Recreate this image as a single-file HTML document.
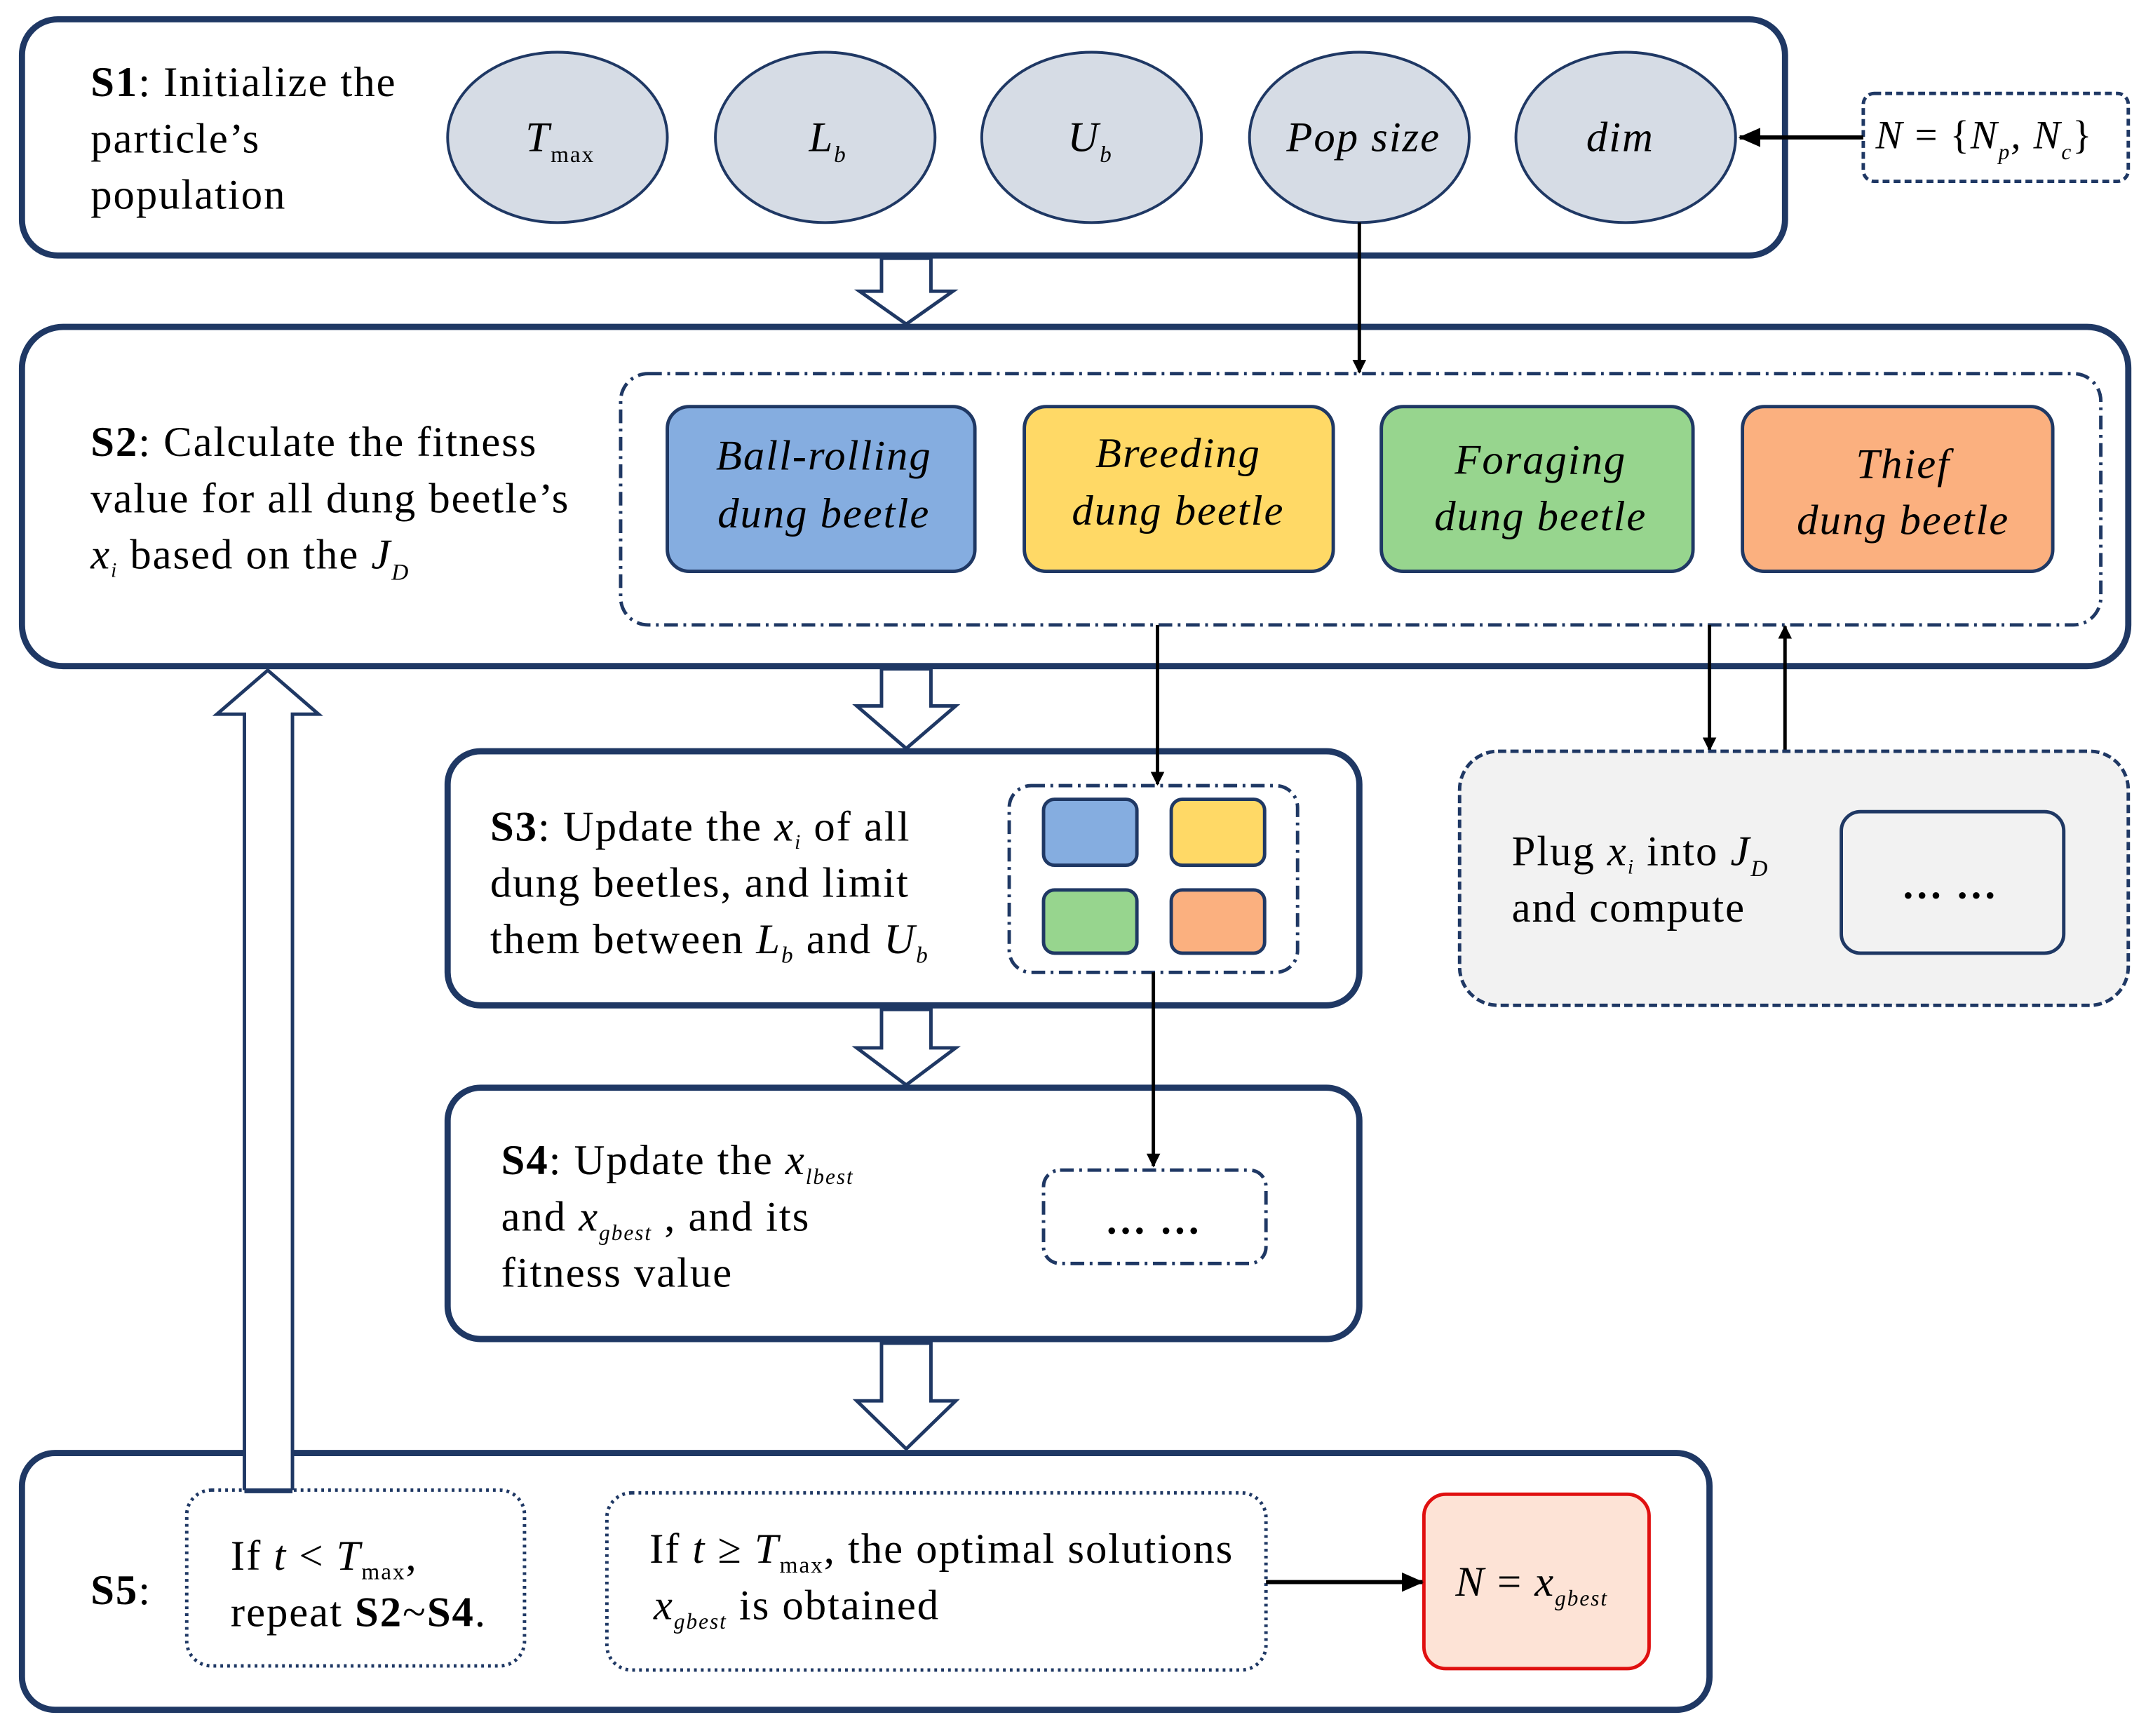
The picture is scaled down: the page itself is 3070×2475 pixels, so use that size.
<!DOCTYPE html>
<html><head><meta charset="utf-8"><style>
html,body{margin:0;padding:0;background:#fff}
svg{display:block}
text{font-family:"Liberation Serif",serif;fill:#000;letter-spacing:1px}
</style></head><body>
<svg width="3070" height="2475" viewBox="0 0 1568 1264" xmlns="http://www.w3.org/2000/svg">
<defs>
<marker id="ah" markerWidth="10" markerHeight="10" refX="9" refY="5" orient="auto" markerUnits="userSpaceOnUse"><path d="M0,0 L10,5 L0,10 z" fill="#000"/></marker>
<marker id="ah2" markerWidth="16" markerHeight="14" refX="15" refY="7" orient="auto" markerUnits="userSpaceOnUse"><path d="M0,0 L16,7 L0,14 z" fill="#000"/></marker>
</defs>
<g fill="#fff" stroke="#1f3864" stroke-width="4.5">
<rect x="16" y="14" width="1284" height="172" rx="26"/>
<rect x="16" y="238" width="1534" height="247" rx="30"/>
<rect x="326" y="547" width="664" height="185" rx="24"/>
<rect x="326" y="792" width="664" height="183" rx="24"/>
<rect x="16" y="1058" width="1229" height="187" rx="24"/>
</g>
<g fill="#d6dce5" stroke="#1f3864" stroke-width="2">
<ellipse cx="406" cy="100" rx="80" ry="62"/>
<ellipse cx="601" cy="100" rx="80" ry="62"/>
<ellipse cx="795" cy="100" rx="80" ry="62"/>
<ellipse cx="990" cy="100" rx="80" ry="62"/>
<ellipse cx="1184" cy="100" rx="80" ry="62"/>
</g>
<g font-style="italic" font-size="31" text-anchor="middle">
<text x="408" y="110">T<tspan font-size="17" font-style="normal" dy="8">max</tspan></text>
<text x="603" y="110">L<tspan font-size="17" dy="8">b</tspan></text>
<text x="794" y="110">U<tspan font-size="17" dy="8">b</tspan></text>
<text x="993" y="110">Pop size</text>
<text x="1180" y="110">dim</text>
</g>
<rect x="1357" y="68" width="193" height="64" rx="8" fill="#fff" stroke="#1f3864" stroke-width="2.5" stroke-dasharray="5,3"/>
<text x="1366" y="108" font-size="29" font-style="italic">N<tspan font-style="normal"> = {</tspan>N<tspan font-size="16" dy="8">p</tspan><tspan dy="-8">, N</tspan><tspan font-size="16" dy="8">c</tspan><tspan font-style="normal" dy="-8">}</tspan></text>
<line x1="1357" y1="100" x2="1267" y2="100" stroke="#000" stroke-width="3" marker-end="url(#ah2)"/>
<text font-size="31"><tspan x="66" y="70"><tspan font-weight="bold">S1</tspan>: Initialize the</tspan><tspan x="66" y="111">particle’s</tspan><tspan x="66" y="152">population</tspan></text>
<g fill="#fff" stroke="#1f3864" stroke-width="2.5">
<path d="M642,188 L678,188 L678,212 L694,212 L660,236 L626,212 L642,212 Z"/>
<path d="M642,487 L678,487 L678,514 L696,514 L660,545 L624,514 L642,514 Z"/>
<path d="M642,735 L678,735 L678,763 L696,763 L660,790 L624,763 L642,763 Z"/>
<path d="M642,978 L678,978 L678,1020 L696,1020 L660,1055 L624,1020 L642,1020 Z"/>
<path d="M178,1085 L213,1085 L213,520 L232,520 L195,488 L158,520 L178,520 Z"/>
</g>
<line x1="990" y1="162" x2="990" y2="271" stroke="#000" stroke-width="2.5" marker-end="url(#ah)"/>
<rect x="452" y="272" width="1078" height="183" rx="20" fill="none" stroke="#1f3864" stroke-width="2.5" stroke-dasharray="10,4,2,4"/>
<g stroke="#1f3864" stroke-width="2.5">
<rect x="486" y="296" width="224" height="120" rx="16" fill="#85ade0"/>
<rect x="746" y="296" width="225" height="120" rx="16" fill="#ffd966"/>
<rect x="1006" y="296" width="227" height="120" rx="16" fill="#97d58e"/>
<rect x="1269" y="296" width="226" height="120" rx="16" fill="#fbb07f"/>
</g>
<g font-style="italic" font-size="31" text-anchor="middle" style="letter-spacing:2px">
<text x="600" y="342">Ball-rolling</text><text x="600" y="384">dung beetle</text>
<text x="858" y="340">Breeding</text><text x="858" y="382">dung beetle</text>
<text x="1122" y="345">Foraging</text><text x="1122" y="386">dung beetle</text>
<text x="1386" y="348">Thief</text><text x="1386" y="389">dung beetle</text>
</g>
<text font-size="31"><tspan x="66" y="332"><tspan font-weight="bold">S2</tspan>: Calculate the fitness</tspan><tspan x="66" y="373">value for all dung beetle’s</tspan><tspan x="66" y="414"><tspan font-style="italic">x</tspan><tspan font-size="15" dy="6" font-style="italic">i</tspan><tspan dy="-6">  based on the </tspan><tspan font-style="italic">J</tspan><tspan font-size="17" dy="8" font-style="italic">D</tspan></tspan></text>
<line x1="843" y1="455" x2="843" y2="571" stroke="#000" stroke-width="2.5" marker-end="url(#ah)"/>
<line x1="1245" y1="455" x2="1245" y2="546" stroke="#000" stroke-width="2.5" marker-end="url(#ah)"/>
<line x1="1300" y1="547" x2="1300" y2="456" stroke="#000" stroke-width="2.5" marker-end="url(#ah)"/>
<text font-size="31"><tspan x="357" y="612"><tspan font-weight="bold">S3</tspan>: Update the <tspan font-style="italic">x</tspan><tspan font-size="15" dy="6" font-style="italic">i</tspan><tspan dy="-6"> of all</tspan></tspan><tspan x="357" y="653">dung beetles, and limit</tspan><tspan x="357" y="694">them between <tspan font-style="italic">L</tspan><tspan font-size="17" dy="7" font-style="italic">b</tspan><tspan dy="-7"> and </tspan><tspan font-style="italic">U</tspan><tspan font-size="17" dy="7" font-style="italic">b</tspan></tspan></text>
<rect x="735" y="572" width="210" height="136" rx="16" fill="none" stroke="#1f3864" stroke-width="2.5" stroke-dasharray="10,4,2,4"/>
<g stroke="#1f3864" stroke-width="2.5">
<rect x="760" y="582" width="68" height="48" rx="8" fill="#85ade0"/>
<rect x="853" y="582" width="68" height="48" rx="8" fill="#ffd966"/>
<rect x="760" y="648" width="68" height="46" rx="8" fill="#97d58e"/>
<rect x="853" y="648" width="68" height="46" rx="8" fill="#fbb07f"/>
</g>
<line x1="840" y1="708" x2="840" y2="849" stroke="#000" stroke-width="2.5" marker-end="url(#ah)"/>
<rect x="1063" y="547" width="487" height="185" rx="28" fill="#f2f2f2" stroke="#1f3864" stroke-width="2.5" stroke-dasharray="6,3"/>
<rect x="1341" y="591" width="162" height="103" rx="14" fill="#f2f2f2" stroke="#1f3864" stroke-width="2.5"/>
<text x="1420" y="654" font-size="30" font-weight="bold" text-anchor="middle">… …</text>
<text font-size="31"><tspan x="1101" y="630">Plug <tspan font-style="italic">x</tspan><tspan font-size="15" dy="6" font-style="italic">i</tspan><tspan dy="-6">  into  </tspan><tspan font-style="italic">J</tspan><tspan font-size="17" dy="8" font-style="italic">D</tspan></tspan><tspan x="1101" y="671">and compute</tspan></text>
<text font-size="31"><tspan x="365" y="855"><tspan font-weight="bold">S4</tspan>: Update the  <tspan font-style="italic">x</tspan><tspan font-size="16" dy="7" font-style="italic">lbest</tspan></tspan><tspan x="365" y="896">and <tspan font-style="italic">x</tspan><tspan font-size="16" dy="7" font-style="italic">gbest</tspan><tspan dy="-7"> , and its</tspan></tspan><tspan x="365" y="937">fitness value</tspan></text>
<rect x="760" y="852" width="162" height="68" rx="12" fill="#fff" stroke="#1f3864" stroke-width="2.5" stroke-dasharray="10,4,2,4"/>
<text x="840" y="898" font-size="30" font-weight="bold" text-anchor="middle">… …</text>
<text x="66" y="1168" font-size="31" font-weight="bold">S5<tspan font-weight="normal">:</tspan></text>
<rect x="136" y="1085" width="246" height="128" rx="18" fill="#fff" stroke="#1f3864" stroke-width="2.5" stroke-dasharray="2,3"/>
<path d="M178,1086 L213,1086" stroke="#1f3864" stroke-width="2.5"/>
<text font-size="31"><tspan x="168" y="1143">If  <tspan font-style="italic">t</tspan> &lt; <tspan font-style="italic">T</tspan><tspan font-size="17" dy="7">max</tspan><tspan dy="-7">,</tspan></tspan><tspan x="168" y="1184">repeat <tspan font-weight="bold">S2</tspan>~<tspan font-weight="bold">S4</tspan>.</tspan></text>
<rect x="442" y="1087" width="480" height="129" rx="18" fill="#fff" stroke="#1f3864" stroke-width="2.5" stroke-dasharray="2,3"/>
<text font-size="31"><tspan x="473" y="1138">If  <tspan font-style="italic">t</tspan> ≥ <tspan font-style="italic">T</tspan><tspan font-size="17" dy="7">max</tspan><tspan dy="-7">, the optimal solutions</tspan></tspan><tspan x="476" y="1179"><tspan font-style="italic">x</tspan><tspan font-size="16" dy="7" font-style="italic">gbest</tspan><tspan dy="-7">  is obtained</tspan></tspan></text>
<rect x="1037" y="1088" width="164" height="127" rx="16" fill="#fde3d6" stroke="#e01010" stroke-width="2.5"/>
<text x="1060" y="1162" font-size="31" font-style="italic">N<tspan font-style="normal"> = </tspan>x<tspan font-size="16" dy="7">gbest</tspan></text>
<line x1="922" y1="1152" x2="1036" y2="1152" stroke="#000" stroke-width="3" marker-end="url(#ah2)"/>
</svg>
</body></html>
